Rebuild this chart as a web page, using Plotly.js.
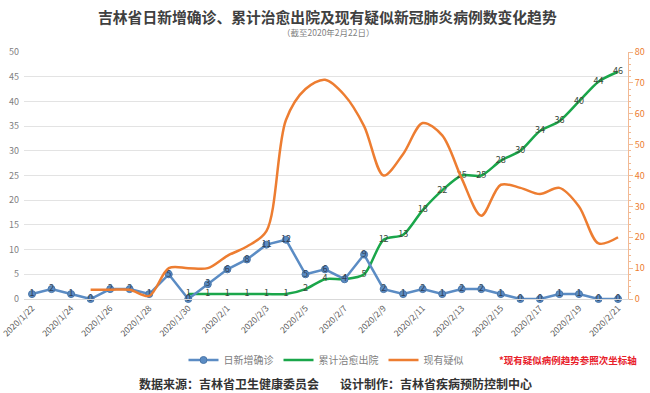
<!DOCTYPE html>
<html>
<head>
<meta charset="utf-8">
<script src="https://cdn.plot.ly/plotly-3.0.1.min.js"></script>
<style>html,body{margin:0;padding:0;background:#fff;}#chart{width:650px;height:393px;}</style>
</head>
<body>
<div id="chart"></div>
<script>
const dates = ["2020/1/22","2020/1/23","2020/1/24","2020/1/25","2020/1/26","2020/1/27","2020/1/28","2020/1/29","2020/1/30","2020/1/31",
"2020/2/1","2020/2/2","2020/2/3","2020/2/4","2020/2/5","2020/2/6","2020/2/7","2020/2/8","2020/2/9","2020/2/10",
"2020/2/11","2020/2/12","2020/2/13","2020/2/14","2020/2/15","2020/2/16","2020/2/17","2020/2/18","2020/2/19","2020/2/20","2020/2/21"];
const newConfirmed = [1,2,1,0,2,2,1,5,0,3,6,8,11,12,5,6,4,9,2,1,2,1,2,2,1,0,0,1,1,0,0];
const cumCured = [null,null,null,null,null,null,null,null,1,1,1,1,1,1,2,4,4,5,12,13,18,22,25,25,28,30,34,36,40,44,46];
const suspected = [null,null,null,3,3,3,1,10,10,10,14,17,22,58,68,71,66,56,40,47,57,53,39,27,37,36,34,36,30,18,20];
const tickLabels = dates.filter((d,i)=>i%2===0);

const seriesNames = ["日新增确诊","累计治愈出院","现有疑似"];
const titleText = "吉林省日新增确诊、累计治愈出院及现有疑似新冠肺炎病例数变化趋势";
const subtitleText = "（截至2020年2月22日）";
const noteText = "*现有疑似病例趋势参照次坐标轴";
const sourceText = "数据来源：吉林省卫生健康委员会";
const designText = "设计制作：吉林省疾病预防控制中心";

const FONT = "'Noto Sans CJK SC', 'Noto Sans', sans-serif";
const BLUE = "#5B8CC4", GREEN = "#1AA64A", ORANGE = "#ED7D31";

const traces = [
  {
    x: dates, y: newConfirmed, name: seriesNames[0], type: "scatter",
    mode: "lines+markers+text", legendrank: 1,
    text: newConfirmed.map(String), textposition: "middle center",
    textfont: {family: FONT, size: 9, color: "#2F3E55"},
    line: {color: BLUE, width: 2.5},
    marker: {symbol: "circle", size: 7, color: BLUE, line: {color: "#4A76A8", width: 1}},
    yaxis: "y", cliponaxis: false
  },
  {
    x: dates, y: cumCured, name: seriesNames[1], type: "scatter",
    mode: "lines+text", legendrank: 2,
    text: cumCured.map(v => v===null ? "" : String(v)), textposition: "middle center",
    textfont: {family: FONT, size: 9, color: "#3A4A3A"},
    line: {color: GREEN, width: 2.5, shape: "spline", smoothing: 0.8},
    yaxis: "y", cliponaxis: false
  },
  {
    x: dates, y: suspected, name: seriesNames[2], type: "scatter",
    mode: "lines", legendrank: 3,
    line: {color: ORANGE, width: 2.5, shape: "spline", smoothing: 0.9},
    yaxis: "y2", cliponaxis: false
  }
];
// draw orange underneath others
const ordered = [traces[2], traces[1], traces[0]];

const layout = {
  width: 650, height: 393,
  margin: {l: 24, r: 22, t: 52, b: 94},
  paper_bgcolor: "#fff", plot_bgcolor: "#fff",
  font: {family: FONT, color: "#595959"},
  showlegend: true,
  legend: {
    orientation: "h", x: 0.5, xanchor: "center", y: -0.247, yanchor: "middle",
    font: {family: FONT, size: 10, color: "#808080"},
    itemwidth: 30,
    bgcolor: "rgba(0,0,0,0)"
  },
  xaxis: {
    type: "category", range: [-0.41, 30.51],
    tickmode: "array", tickvals: tickLabels, ticktext: tickLabels,
    tickangle: -45, tickfont: {family: FONT, size: 8.5, color: "#595959"},
    showgrid: false, showline: true, linecolor: "#D9D9D9", linewidth: 1,
    ticks: "", zeroline: false
  },
  yaxis: {
    range: [0, 50], dtick: 5, tick0: 0,
    gridcolor: "#E3E3E3", gridwidth: 1,
    zeroline: false, showline: false,
    tickfont: {family: FONT, size: 9, color: "#7F7F7F"},
    ticks: "", ticklabelstandoff: 4
  },
  yaxis2: {
    overlaying: "y", side: "right", range: [0, 80], dtick: 10, tick0: 0,
    showgrid: false, zeroline: false,
    showline: true, linecolor: "#F2B994", linewidth: 1,
    ticks: "outside", ticklen: 4, tickcolor: "#F2B994",
    minor: {dtick: 2, ticks: "outside", ticklen: 2, tickcolor: "#F2B994"},
    tickfont: {family: FONT, size: 9, color: ORANGE}
  },
  annotations: [
    {text: "<b>" + titleText + "</b>", xref: "paper", yref: "paper", x: 0.5, xanchor: "center",
     y: 1, yanchor: "middle", yshift: 36, showarrow: false, xshift: 1,
     font: {family: FONT, size: 14.8, color: "#404040"}},
    {text: subtitleText, xref: "paper", yref: "paper", x: 0.5, xanchor: "center",
     y: 1, yanchor: "middle", yshift: 20, showarrow: false, xshift: 2,
     font: {family: FONT, size: 8.5, color: "#7F7F7F"}},
    {text: "<b>" + noteText + "</b>", xref: "paper", yref: "paper", x: 1, xanchor: "right",
     y: 0, yanchor: "middle", yshift: -61, xshift: 11, showarrow: false,
     font: {family: FONT, size: 9.5, color: "#E8202A"}},
    {text: "<b>" + sourceText + "</b>", xref: "paper", yref: "paper", x: 0, xanchor: "left",
     y: 0, yanchor: "middle", yshift: -84, xshift: 113, showarrow: false,
     font: {family: FONT, size: 12, color: "#333333"}},
    {text: "<b>" + designText + "</b>", xref: "paper", yref: "paper", x: 0, xanchor: "left",
     y: 0, yanchor: "middle", yshift: -84, xshift: 314, showarrow: false,
     font: {family: FONT, size: 12, color: "#333333"}}
  ]
};

Plotly.newPlot("chart", ordered, layout, {displayModeBar: false, staticPlot: true});
</script>
</body>
</html>
